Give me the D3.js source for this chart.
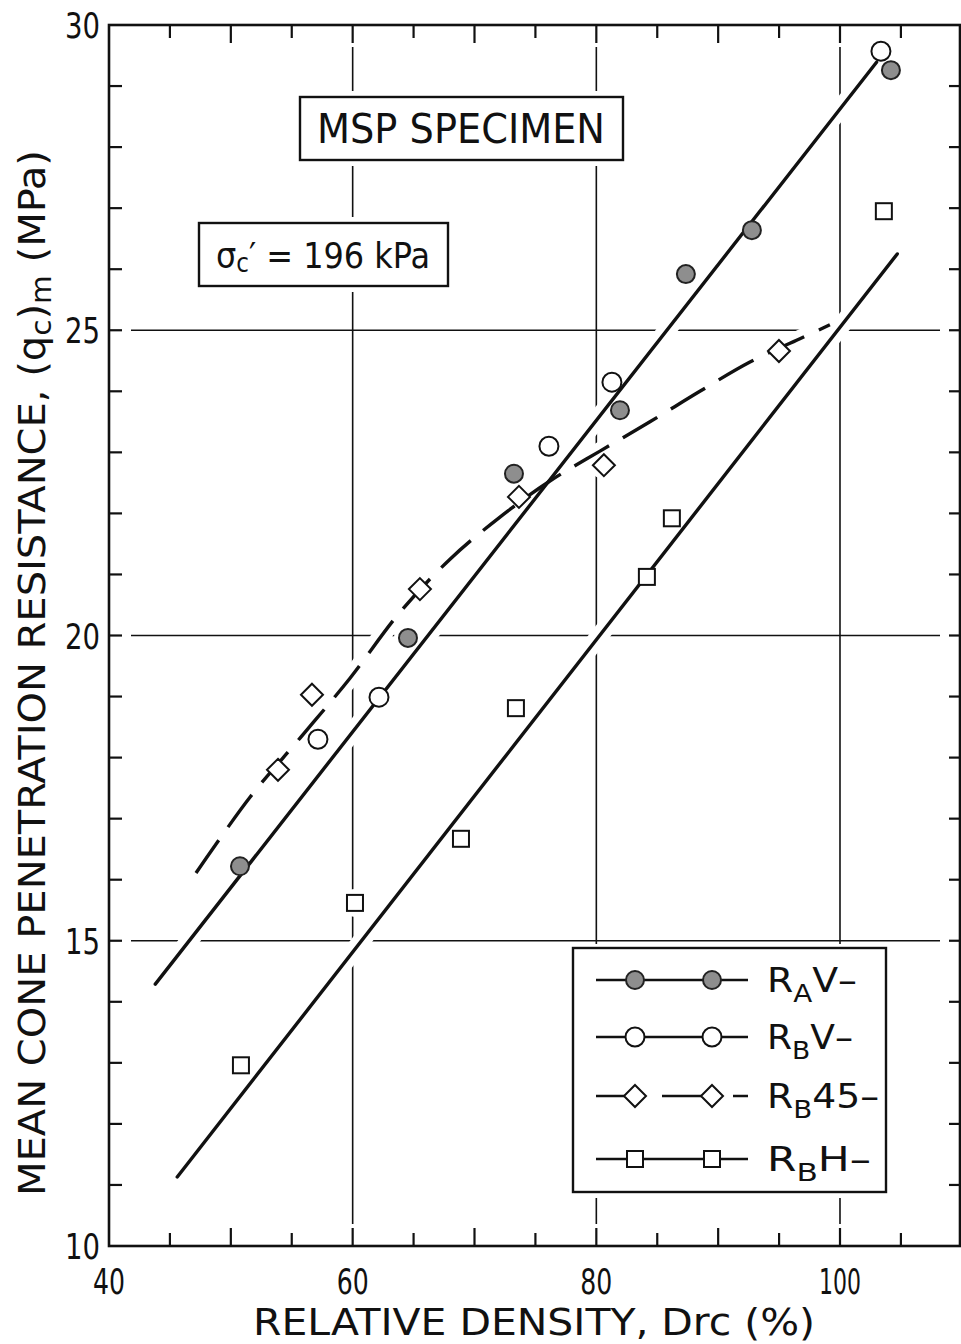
<!DOCTYPE html>
<html>
<head>
<meta charset="utf-8">
<script src="https://cdn.jsdelivr.net/npm/d3@7"></script>
<style>
  body { margin: 0; background: #fff; }
  svg { display: block; }
  text { font-family: 'DejaVu Sans', sans-serif; font-stretch: condensed; fill: #111; }
</style>
</head>
<body>
<svg id="chart" width="961" height="1344"></svg>
<script>
// Axis tick values
const xTickLabels = [40, 60, 80, 100];
const yTickLabels = [10, 15, 20, 25, 30];
const xGrid = [60, 80, 100];
const yGrid = [15, 20, 25];

// Measured series: [relative density Drc (%), mean cone resistance (MPa)]
const rAV = [[50.75, 16.22], [64.54, 19.96], [73.24, 22.65], [81.94, 23.69], [87.35, 25.92], [92.77, 26.64], [104.18, 29.26]];
const rBV = [[57.15, 18.30], [62.16, 18.99], [76.11, 23.10], [81.28, 24.15], [103.36, 29.57]];
const rB45 = [[53.87, 17.80], [56.66, 19.03], [65.52, 20.76], [73.65, 22.27], [80.62, 22.79], [94.99, 24.66]];
const rBH = [[50.83, 12.96], [60.19, 15.62], [68.89, 16.67], [73.40, 18.81], [84.15, 20.96], [86.20, 21.92], [103.60, 26.95]];

// Fitted trends
const fitV = [[43.8, 14.29], [103.0, 29.39]];
const fitH = [[45.6, 11.13], [104.7, 26.25]];
const fit45 = [[47.14, 16.11], [51.57, 17.35], [55.68, 18.32], [59.78, 19.30], [63.88, 20.38], [67.99, 21.25],
               [72.09, 21.94], [76.19, 22.53], [80.30, 23.02], [84.40, 23.50], [88.50, 24.00], [92.61, 24.48],
               [96.71, 24.86], [99.17, 25.09]];

const legendItems = [
  { main: "R", sub: "A", rest: "V–", shape: "filled", dashed: false, width: 90 },
  { main: "R", sub: "B", rest: "V–", shape: "circle", dashed: false, width: 86 },
  { main: "R", sub: "B", rest: "45–", shape: "diamond", dashed: true, width: 112 },
  { main: "R", sub: "B", rest: "H–", shape: "square", dashed: false, width: 104 }
];

const svg = d3.select("#chart");
const x = d3.scaleLinear().domain([40, 109.85]).range([109, 960]);
const y = d3.scaleLinear().domain([10, 30]).range([1246, 25]);
const [xl, xr] = x.range();
const [yb, yt] = y.range();

// grid lines, inset from the frame
const grid = svg.append("g").attr("stroke", "#111").attr("stroke-width", 1.6);
yGrid.forEach(v => grid.append("line").attr("x1", xl + 22).attr("x2", xr - 20).attr("y1", y(v)).attr("y2", y(v)));
xGrid.forEach(v => grid.append("line").attr("x1", x(v)).attr("x2", x(v)).attr("y1", yt + 22).attr("y2", yb - 22));

// white casings that break the grid where the trend lines cross it
const line = d3.line().x(d => x(d[0])).y(d => y(d[1]));
const curve = d3.line().x(d => x(d[0])).y(d => y(d[1])).curve(d3.curveCatmullRom.alpha(0.5));
const casing = svg.append("g").attr("fill", "none").attr("stroke", "#fff").attr("stroke-width", 18);
casing.append("path").attr("d", line(fitV));
casing.append("path").attr("d", line(fitH));
casing.append("path").attr("d", curve(fit45));

// white halos around markers
const halo = svg.append("g").attr("fill", "#fff");
[...rAV, ...rBV, ...rB45, ...rBH].forEach(d => halo.append("circle").attr("cx", x(d[0])).attr("cy", y(d[1])).attr("r", 14));

// text boxes with white surround
function textBox(bx, by, bw, bh) {
  svg.append("rect").attr("x", bx - 6).attr("y", by - 6).attr("width", bw + 12).attr("height", bh + 12).attr("fill", "#fff");
  svg.append("rect").attr("x", bx).attr("y", by).attr("width", bw).attr("height", bh)
    .attr("fill", "#fff").attr("stroke", "#111").attr("stroke-width", 2.4);
}
textBox(300, 97, 323, 63);
svg.append("text").attr("x", 317).attr("y", 143).attr("font-size", 40)
  .attr("textLength", 288).attr("lengthAdjust", "spacingAndGlyphs").text("MSP  SPECIMEN");

textBox(199, 223, 249, 63);
const sig = svg.append("text").attr("x", 216).attr("y", 268).attr("font-size", 36)
  .attr("textLength", 214).attr("lengthAdjust", "spacingAndGlyphs");
sig.append("tspan").text("σ");
sig.append("tspan").attr("font-size", 26).attr("dy", 4).text("c");
sig.append("tspan").attr("dy", -4).text("′ = 196 kPa");

// trend lines
const lines = svg.append("g").attr("fill", "none").attr("stroke", "#111").attr("stroke-width", 3.4).attr("stroke-linecap", "round");
lines.append("path").attr("d", line(fitV));
lines.append("path").attr("d", line(fitH));
lines.append("path").attr("d", curve(fit45)).attr("stroke-dasharray", "40 16").attr("stroke-linecap", "butt");

// marker drawing
function marker(g, shape, cx, cy) {
  if (shape === "filled") {
    g.append("circle").attr("cx", cx).attr("cy", cy).attr("r", 9).attr("fill", "#8e8e8e").attr("stroke", "#222").attr("stroke-width", 2);
  } else if (shape === "circle") {
    g.append("circle").attr("cx", cx).attr("cy", cy).attr("r", 9.5).attr("fill", "#fff").attr("stroke", "#111").attr("stroke-width", 2);
  } else if (shape === "diamond") {
    const s = 11;
    g.append("path").attr("d", `M${cx},${cy - s}L${cx + s},${cy}L${cx},${cy + s}L${cx - s},${cy}Z`)
      .attr("fill", "#fff").attr("stroke", "#111").attr("stroke-width", 2);
  } else {
    const s = 8;
    g.append("rect").attr("x", cx - s).attr("y", cy - s).attr("width", 2 * s).attr("height", 2 * s)
      .attr("fill", "#fff").attr("stroke", "#111").attr("stroke-width", 2);
  }
}
const marks = svg.append("g");
rBH.forEach(d => marker(marks, "square", x(d[0]), y(d[1])));
rB45.forEach(d => marker(marks, "diamond", x(d[0]), y(d[1])));
rBV.forEach(d => marker(marks, "circle", x(d[0]), y(d[1])));
rAV.forEach(d => marker(marks, "filled", x(d[0]), y(d[1])));

// legend
const lg = svg.append("g");
lg.append("rect").attr("x", 567).attr("y", 944).attr("width", 325).attr("height", 254).attr("fill", "#fff");
lg.append("rect").attr("x", 573).attr("y", 948).attr("width", 313).attr("height", 244)
  .attr("fill", "#fff").attr("stroke", "#111").attr("stroke-width", 2.4);
const rowY = [980, 1037, 1096, 1159];
legendItems.forEach((it, i) => {
  const ry = rowY[i];
  const l = lg.append("line").attr("x1", 596).attr("x2", 748).attr("y1", ry).attr("y2", ry)
    .attr("stroke", "#111").attr("stroke-width", 2.4);
  if (it.dashed) l.attr("stroke-dasharray", "29 37 40 31 15");
  marker(lg, it.shape, 635, ry);
  marker(lg, it.shape, 712, ry);
  const t = lg.append("text").attr("x", 767).attr("y", ry + 12).attr("font-size", 34)
    .attr("textLength", it.width).attr("lengthAdjust", "spacingAndGlyphs");
  t.append("tspan").text(it.main);
  t.append("tspan").attr("font-size", 25).attr("dy", 10).text(it.sub);
  t.append("tspan").attr("dy", -10).text(it.rest);
});

// frame
svg.append("rect").attr("x", xl).attr("y", yt).attr("width", xr - xl).attr("height", yb - yt)
  .attr("fill", "none").attr("stroke", "#111").attr("stroke-width", 2.6);

// inward ticks
const ticks = svg.append("g").attr("stroke", "#111").attr("stroke-width", 2.2);
d3.range(11, 30).forEach(v => {
  ticks.append("line").attr("x1", xl).attr("x2", xl + 13).attr("y1", y(v)).attr("y2", y(v));
  ticks.append("line").attr("x1", xr).attr("x2", xr - 11).attr("y1", y(v)).attr("y2", y(v));
});
d3.range(45, 110, 5).forEach(v => {
  const len = v % 10 === 0 ? 18 : 13;
  ticks.append("line").attr("x1", x(v)).attr("x2", x(v)).attr("y1", yt).attr("y2", yt + len);
  ticks.append("line").attr("x1", x(v)).attr("x2", x(v)).attr("y1", yb).attr("y2", yb - len);
});

// tick labels
svg.append("g").selectAll("text").data(yTickLabels).join("text")
  .attr("x", 65).attr("y", d => y(d) + 13).attr("font-size", 36)
  .attr("textLength", 35).attr("lengthAdjust", "spacingAndGlyphs").text(d => d);
svg.append("g").selectAll("text").data(xTickLabels).join("text")
  .attr("x", d => x(d) - (d >= 100 ? 21 : 16)).attr("y", 1294).attr("font-size", 36)
  .attr("textLength", d => d >= 100 ? 42 : 32).attr("lengthAdjust", "spacingAndGlyphs").text(d => d);

// axis titles
svg.append("text").attr("x", 253).attr("y", 1335).attr("font-size", 38)
  .attr("textLength", 562).attr("lengthAdjust", "spacingAndGlyphs").text("RELATIVE  DENSITY,  Drc (%)");

const yt2 = svg.append("text").attr("transform", "translate(45,1196) rotate(-90)").attr("font-size", 38)
  .attr("textLength", 1046).attr("lengthAdjust", "spacingAndGlyphs");
yt2.append("tspan").text("MEAN CONE PENETRATION RESISTANCE,  (q");
yt2.append("tspan").attr("font-size", 28).attr("dy", 6).text("c");
yt2.append("tspan").attr("dy", -6).text(")");
yt2.append("tspan").attr("font-size", 28).attr("dy", 6).text("m");
yt2.append("tspan").attr("dy", -6).text(" (MPa)");
</script>
</body>
</html>
